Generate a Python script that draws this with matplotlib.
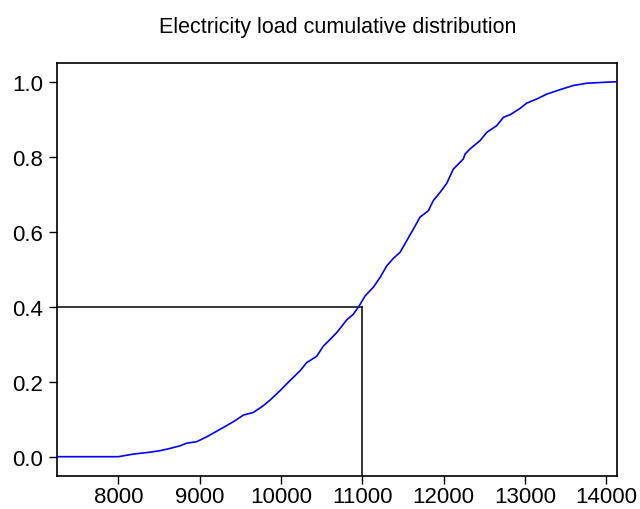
import matplotlib.pyplot as plt

plt.rcParams['font.family'] = ['Liberation Sans', 'DejaVu Sans']

# empirical CDF of electricity load, read point by point
load = [7248, 8000, 8184, 8389, 8512, 8635, 8758, 8840, 8963, 9086, 9209,
        9332, 9434, 9536, 9659, 9782, 9865, 9987, 10110, 10233, 10316,
        10439, 10520, 10581, 10685, 10808, 10889, 10963, 11034, 11135,
        11217, 11300, 11381, 11463, 11545, 11627, 11709, 11811, 11872,
        11955, 12037, 12118, 12241, 12262, 12324, 12447, 12529, 12652,
        12733, 12816, 12939, 13021, 13144, 13267, 13431, 13594, 13759,
        13922, 14130]
cum_prob = [0.0, 0.0, 0.007, 0.012, 0.016, 0.022, 0.029, 0.036, 0.040,
            0.053, 0.068, 0.083, 0.096, 0.111, 0.118, 0.136, 0.151, 0.176,
            0.203, 0.229, 0.251, 0.268, 0.295, 0.308, 0.331, 0.365, 0.380,
            0.403, 0.429, 0.452, 0.478, 0.509, 0.529, 0.545, 0.576, 0.607,
            0.639, 0.656, 0.683, 0.705, 0.729, 0.767, 0.794, 0.807, 0.821,
            0.843, 0.865, 0.883, 0.905, 0.912, 0.929, 0.943, 0.954, 0.967,
            0.979, 0.990, 0.996, 0.998, 1.0]

# 40% quantile marker
q_load = 11000
q_prob = 0.4

x_ticks = [8000, 9000, 10000, 11000, 12000, 13000, 14000]
y_ticks = [0.0, 0.2, 0.4, 0.6, 0.8, 1.0]

fig = plt.figure(figsize=(6.4, 5.1), dpi=100)
ax = fig.add_axes([0.0894, 0.0647, 0.8746, 0.8098])

xmin, xmax = load[0], load[-1]
ymin, ymax = -0.0515, 1.05

ax.plot(load, cum_prob, color='#0000ff', lw=1.2, zorder=3)
ax.plot([xmin, q_load], [q_prob, q_prob], color='black', lw=1.1, zorder=2)
ax.plot([q_load, q_load], [q_prob, ymin], color='black', lw=1.1, zorder=2)

ax.set_xlim(xmin, xmax)
ax.set_ylim(ymin, ymax)
ax.set_xticks(x_ticks)
ax.set_yticks(y_ticks)
ax.set_yticklabels([f'{v:.1f}' for v in y_ticks])
ax.tick_params(direction='out', length=6, width=1, labelsize=16,
               colors='black')
ax.tick_params(axis='x', pad=1)
ax.tick_params(axis='y', pad=4)
for s in ax.spines.values():
    s.set_linewidth(1.2)

fig.text(0.527, 1 - 27 / 510, 'Electricity load cumulative distribution',
         ha='center', va='center', fontsize=15.5)

fig.savefig('out.png', dpi=100)
